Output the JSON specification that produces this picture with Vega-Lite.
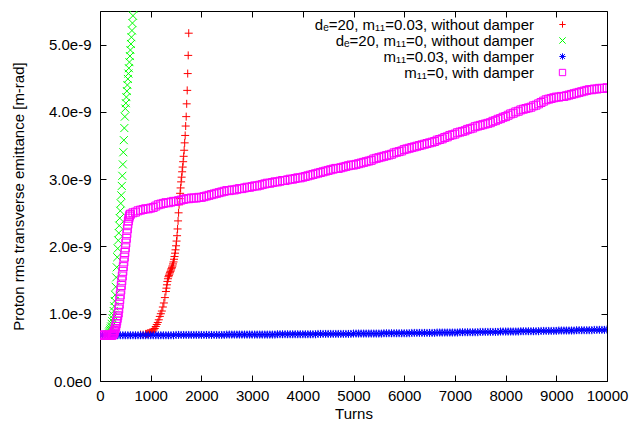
{
"$schema": "https://vega.github.io/schema/vega-lite/v6.json",
"width": 507, "height": 370,
"autosize": "none",
"padding": {"left": 100, "top": 11, "right": 30, "bottom": 46},
"background": "white",
"config": {"font": "Liberation Sans", "view": {"stroke": "black", "strokeWidth": 1}, "axis": {"grid": false}},
"datasets": {"pts": [
{"s":"a","t":800,"e":0.69e-9},{"s":"a","t":850,"e":0.69e-9},{"s":"a","t":900,"e":0.70e-9},{"s":"a","t":920,"e":0.70e-9},{"s":"a","t":940,"e":0.71e-9},{"s":"a","t":960,"e":0.71e-9},{"s":"a","t":980,"e":0.72e-9},{"s":"a","t":1000,"e":0.72e-9},{"s":"a","t":1020,"e":0.73e-9},{"s":"a","t":1040,"e":0.74e-9},{"s":"a","t":1060,"e":0.76e-9},{"s":"a","t":1080,"e":0.78e-9},{"s":"a","t":1100,"e":0.81e-9},{"s":"a","t":1120,"e":0.84e-9},{"s":"a","t":1140,"e":0.87e-9},{"s":"a","t":1160,"e":0.91e-9},{"s":"a","t":1180,"e":0.96e-9},{"s":"a","t":1200,"e":1.00e-9},{"s":"a","t":1220,"e":1.04e-9},{"s":"a","t":1240,"e":1.10e-9},{"s":"a","t":1260,"e":1.16e-9},{"s":"a","t":1280,"e":1.24e-9},{"s":"a","t":1300,"e":1.33e-9},{"s":"a","t":1310,"e":1.38e-9},{"s":"a","t":1320,"e":1.43e-9},{"s":"a","t":1330,"e":1.48e-9},{"s":"a","t":1340,"e":1.52e-9},{"s":"a","t":1350,"e":1.55e-9},{"s":"a","t":1360,"e":1.57e-9},{"s":"a","t":1370,"e":1.59e-9},{"s":"a","t":1380,"e":1.61e-9},{"s":"a","t":1390,"e":1.63e-9},{"s":"a","t":1400,"e":1.65e-9},{"s":"a","t":1410,"e":1.67e-9},{"s":"a","t":1420,"e":1.69e-9},{"s":"a","t":1430,"e":1.71e-9},{"s":"a","t":1440,"e":1.74e-9},{"s":"a","t":1450,"e":1.77e-9},{"s":"a","t":1460,"e":1.81e-9},{"s":"a","t":1470,"e":1.85e-9},{"s":"a","t":1480,"e":1.90e-9},{"s":"a","t":1490,"e":1.95e-9},{"s":"a","t":1500,"e":2.01e-9},{"s":"a","t":1510,"e":2.08e-9},{"s":"a","t":1520,"e":2.16e-9},{"s":"a","t":1530,"e":2.26e-9},{"s":"a","t":1540,"e":2.38e-9},{"s":"a","t":1550,"e":2.50e-9},{"s":"a","t":1560,"e":2.62e-9},{"s":"a","t":1570,"e":2.71e-9},{"s":"a","t":1580,"e":2.79e-9},{"s":"a","t":1590,"e":2.87e-9},{"s":"a","t":1600,"e":2.96e-9},{"s":"a","t":1610,"e":3.03e-9},{"s":"a","t":1620,"e":3.11e-9},{"s":"a","t":1630,"e":3.18e-9},{"s":"a","t":1640,"e":3.26e-9},{"s":"a","t":1650,"e":3.34e-9},{"s":"a","t":1660,"e":3.43e-9},{"s":"a","t":1670,"e":3.54e-9},{"s":"a","t":1680,"e":3.65e-9},{"s":"a","t":1690,"e":3.79e-9},{"s":"a","t":1700,"e":3.93e-9},{"s":"a","t":1710,"e":4.12e-9},{"s":"a","t":1720,"e":4.32e-9},{"s":"a","t":1730,"e":4.57e-9},{"s":"a","t":1740,"e":4.84e-9},{"s":"a","t":1750,"e":5.17e-9},
{"s":"b","t":150,"e":0.68e-9},{"s":"b","t":160,"e":0.69e-9},{"s":"b","t":170,"e":0.70e-9},{"s":"b","t":180,"e":0.72e-9},{"s":"b","t":190,"e":0.74e-9},{"s":"b","t":200,"e":0.76e-9},{"s":"b","t":210,"e":0.78e-9},{"s":"b","t":220,"e":0.81e-9},{"s":"b","t":230,"e":0.85e-9},{"s":"b","t":240,"e":0.89e-9},{"s":"b","t":250,"e":0.93e-9},{"s":"b","t":260,"e":0.98e-9},{"s":"b","t":270,"e":1.04e-9},{"s":"b","t":280,"e":1.11e-9},{"s":"b","t":290,"e":1.19e-9},{"s":"b","t":300,"e":1.28e-9},{"s":"b","t":310,"e":1.40e-9},{"s":"b","t":320,"e":1.54e-9},{"s":"b","t":330,"e":1.69e-9},{"s":"b","t":340,"e":1.84e-9},{"s":"b","t":350,"e":1.97e-9},{"s":"b","t":360,"e":2.09e-9},{"s":"b","t":370,"e":2.20e-9},{"s":"b","t":380,"e":2.31e-9},{"s":"b","t":390,"e":2.42e-9},{"s":"b","t":400,"e":2.53e-9},{"s":"b","t":410,"e":2.64e-9},{"s":"b","t":420,"e":2.76e-9},{"s":"b","t":430,"e":2.90e-9},{"s":"b","t":440,"e":3.05e-9},{"s":"b","t":450,"e":3.22e-9},{"s":"b","t":460,"e":3.40e-9},{"s":"b","t":470,"e":3.58e-9},{"s":"b","t":480,"e":3.76e-9},{"s":"b","t":490,"e":3.93e-9},{"s":"b","t":500,"e":4.05e-9},{"s":"b","t":510,"e":4.13e-9},{"s":"b","t":520,"e":4.22e-9},{"s":"b","t":530,"e":4.31e-9},{"s":"b","t":540,"e":4.40e-9},{"s":"b","t":550,"e":4.49e-9},{"s":"b","t":560,"e":4.57e-9},{"s":"b","t":570,"e":4.65e-9},{"s":"b","t":580,"e":4.74e-9},{"s":"b","t":590,"e":4.83e-9},{"s":"b","t":600,"e":4.92e-9},{"s":"b","t":610,"e":5.01e-9},{"s":"b","t":620,"e":5.11e-9},{"s":"b","t":630,"e":5.21e-9},{"s":"b","t":640,"e":5.32e-9},{"s":"b","t":650,"e":5.43e-9},{"s":"b","t":660,"e":5.54e-9},
{"s":"c","t":0,"e":0.680e-9},{"s":"c","t":50,"e":0.680e-9},{"s":"c","t":100,"e":0.680e-9},{"s":"c","t":150,"e":0.680e-9},{"s":"c","t":200,"e":0.680e-9},{"s":"c","t":250,"e":0.680e-9},{"s":"c","t":300,"e":0.680e-9},{"s":"c","t":350,"e":0.680e-9},{"s":"c","t":400,"e":0.680e-9},{"s":"c","t":450,"e":0.680e-9},{"s":"c","t":500,"e":0.680e-9},{"s":"c","t":550,"e":0.680e-9},{"s":"c","t":600,"e":0.680e-9},{"s":"c","t":650,"e":0.680e-9},{"s":"c","t":700,"e":0.680e-9},{"s":"c","t":750,"e":0.680e-9},{"s":"c","t":800,"e":0.680e-9},{"s":"c","t":850,"e":0.680e-9},{"s":"c","t":900,"e":0.680e-9},{"s":"c","t":950,"e":0.680e-9},{"s":"c","t":1000,"e":0.680e-9},{"s":"c","t":1050,"e":0.680e-9},{"s":"c","t":1100,"e":0.680e-9},{"s":"c","t":1150,"e":0.680e-9},{"s":"c","t":1200,"e":0.680e-9},{"s":"c","t":1250,"e":0.680e-9},{"s":"c","t":1300,"e":0.680e-9},{"s":"c","t":1350,"e":0.680e-9},{"s":"c","t":1400,"e":0.680e-9},{"s":"c","t":1450,"e":0.680e-9},
{"s":"c","t":1500,"e":0.685e-9},{"s":"c","t":1550,"e":0.685e-9},{"s":"c","t":1600,"e":0.685e-9},{"s":"c","t":1650,"e":0.685e-9},{"s":"c","t":1700,"e":0.685e-9},{"s":"c","t":1750,"e":0.685e-9},{"s":"c","t":1800,"e":0.685e-9},{"s":"c","t":1850,"e":0.685e-9},{"s":"c","t":1900,"e":0.685e-9},{"s":"c","t":1950,"e":0.685e-9},{"s":"c","t":2000,"e":0.685e-9},{"s":"c","t":2050,"e":0.685e-9},{"s":"c","t":2100,"e":0.685e-9},{"s":"c","t":2150,"e":0.685e-9},{"s":"c","t":2200,"e":0.685e-9},{"s":"c","t":2250,"e":0.685e-9},{"s":"c","t":2300,"e":0.685e-9},{"s":"c","t":2350,"e":0.685e-9},{"s":"c","t":2400,"e":0.685e-9},{"s":"c","t":2450,"e":0.685e-9},
{"s":"c","t":2500,"e":0.690e-9},{"s":"c","t":2550,"e":0.690e-9},{"s":"c","t":2600,"e":0.690e-9},{"s":"c","t":2650,"e":0.690e-9},{"s":"c","t":2700,"e":0.690e-9},{"s":"c","t":2750,"e":0.690e-9},{"s":"c","t":2800,"e":0.690e-9},{"s":"c","t":2850,"e":0.690e-9},{"s":"c","t":2900,"e":0.690e-9},{"s":"c","t":2950,"e":0.690e-9},{"s":"c","t":3000,"e":0.690e-9},{"s":"c","t":3050,"e":0.690e-9},{"s":"c","t":3100,"e":0.690e-9},{"s":"c","t":3150,"e":0.690e-9},{"s":"c","t":3200,"e":0.690e-9},{"s":"c","t":3250,"e":0.690e-9},{"s":"c","t":3300,"e":0.690e-9},{"s":"c","t":3350,"e":0.690e-9},{"s":"c","t":3400,"e":0.690e-9},{"s":"c","t":3450,"e":0.690e-9},
{"s":"c","t":3500,"e":0.695e-9},{"s":"c","t":3550,"e":0.695e-9},{"s":"c","t":3600,"e":0.695e-9},{"s":"c","t":3650,"e":0.695e-9},{"s":"c","t":3700,"e":0.695e-9},{"s":"c","t":3750,"e":0.695e-9},{"s":"c","t":3800,"e":0.695e-9},{"s":"c","t":3850,"e":0.695e-9},{"s":"c","t":3900,"e":0.695e-9},{"s":"c","t":3950,"e":0.695e-9},{"s":"c","t":4000,"e":0.695e-9},{"s":"c","t":4050,"e":0.695e-9},{"s":"c","t":4100,"e":0.695e-9},{"s":"c","t":4150,"e":0.695e-9},{"s":"c","t":4200,"e":0.695e-9},{"s":"c","t":4250,"e":0.695e-9},
{"s":"c","t":4300,"e":0.700e-9},{"s":"c","t":4350,"e":0.700e-9},{"s":"c","t":4400,"e":0.700e-9},{"s":"c","t":4450,"e":0.700e-9},{"s":"c","t":4500,"e":0.700e-9},{"s":"c","t":4550,"e":0.700e-9},{"s":"c","t":4600,"e":0.700e-9},{"s":"c","t":4650,"e":0.700e-9},{"s":"c","t":4700,"e":0.700e-9},{"s":"c","t":4750,"e":0.700e-9},{"s":"c","t":4800,"e":0.700e-9},{"s":"c","t":4850,"e":0.700e-9},{"s":"c","t":4900,"e":0.700e-9},{"s":"c","t":4950,"e":0.700e-9},
{"s":"c","t":5000,"e":0.705e-9},{"s":"c","t":5050,"e":0.705e-9},{"s":"c","t":5100,"e":0.705e-9},{"s":"c","t":5150,"e":0.705e-9},{"s":"c","t":5200,"e":0.705e-9},{"s":"c","t":5250,"e":0.705e-9},{"s":"c","t":5300,"e":0.705e-9},{"s":"c","t":5350,"e":0.705e-9},{"s":"c","t":5400,"e":0.705e-9},{"s":"c","t":5450,"e":0.705e-9},{"s":"c","t":5500,"e":0.705e-9},{"s":"c","t":5550,"e":0.705e-9},
{"s":"c","t":5600,"e":0.710e-9},{"s":"c","t":5650,"e":0.710e-9},{"s":"c","t":5700,"e":0.710e-9},{"s":"c","t":5750,"e":0.710e-9},{"s":"c","t":5800,"e":0.710e-9},{"s":"c","t":5850,"e":0.710e-9},{"s":"c","t":5900,"e":0.710e-9},{"s":"c","t":5950,"e":0.710e-9},{"s":"c","t":6000,"e":0.710e-9},{"s":"c","t":6050,"e":0.710e-9},{"s":"c","t":6100,"e":0.710e-9},
{"s":"c","t":6150,"e":0.715e-9},{"s":"c","t":6200,"e":0.715e-9},{"s":"c","t":6250,"e":0.715e-9},{"s":"c","t":6300,"e":0.715e-9},{"s":"c","t":6350,"e":0.715e-9},{"s":"c","t":6400,"e":0.715e-9},{"s":"c","t":6450,"e":0.715e-9},{"s":"c","t":6500,"e":0.715e-9},{"s":"c","t":6550,"e":0.715e-9},{"s":"c","t":6600,"e":0.715e-9},
{"s":"c","t":6650,"e":0.720e-9},{"s":"c","t":6700,"e":0.720e-9},{"s":"c","t":6750,"e":0.720e-9},{"s":"c","t":6800,"e":0.720e-9},{"s":"c","t":6850,"e":0.720e-9},{"s":"c","t":6900,"e":0.720e-9},{"s":"c","t":6950,"e":0.720e-9},{"s":"c","t":7000,"e":0.720e-9},{"s":"c","t":7050,"e":0.720e-9},
{"s":"c","t":7100,"e":0.725e-9},{"s":"c","t":7150,"e":0.725e-9},{"s":"c","t":7200,"e":0.725e-9},{"s":"c","t":7250,"e":0.725e-9},{"s":"c","t":7300,"e":0.725e-9},{"s":"c","t":7350,"e":0.725e-9},{"s":"c","t":7400,"e":0.725e-9},{"s":"c","t":7450,"e":0.725e-9},
{"s":"c","t":7500,"e":0.730e-9},{"s":"c","t":7550,"e":0.730e-9},{"s":"c","t":7600,"e":0.730e-9},{"s":"c","t":7650,"e":0.730e-9},{"s":"c","t":7700,"e":0.730e-9},{"s":"c","t":7750,"e":0.730e-9},{"s":"c","t":7800,"e":0.730e-9},{"s":"c","t":7850,"e":0.730e-9},
{"s":"c","t":7900,"e":0.735e-9},{"s":"c","t":7950,"e":0.735e-9},{"s":"c","t":8000,"e":0.735e-9},{"s":"c","t":8050,"e":0.735e-9},{"s":"c","t":8100,"e":0.735e-9},{"s":"c","t":8150,"e":0.735e-9},{"s":"c","t":8200,"e":0.735e-9},{"s":"c","t":8250,"e":0.735e-9},
{"s":"c","t":8300,"e":0.740e-9},{"s":"c","t":8350,"e":0.740e-9},{"s":"c","t":8400,"e":0.740e-9},{"s":"c","t":8450,"e":0.740e-9},{"s":"c","t":8500,"e":0.740e-9},{"s":"c","t":8550,"e":0.740e-9},{"s":"c","t":8600,"e":0.740e-9},{"s":"c","t":8650,"e":0.740e-9},
{"s":"c","t":8700,"e":0.745e-9},{"s":"c","t":8750,"e":0.745e-9},{"s":"c","t":8800,"e":0.745e-9},{"s":"c","t":8850,"e":0.745e-9},{"s":"c","t":8900,"e":0.745e-9},{"s":"c","t":8950,"e":0.745e-9},{"s":"c","t":9000,"e":0.745e-9},
{"s":"c","t":9050,"e":0.750e-9},{"s":"c","t":9100,"e":0.750e-9},{"s":"c","t":9150,"e":0.750e-9},{"s":"c","t":9200,"e":0.750e-9},{"s":"c","t":9250,"e":0.750e-9},{"s":"c","t":9300,"e":0.750e-9},{"s":"c","t":9350,"e":0.750e-9},
{"s":"c","t":9400,"e":0.755e-9},{"s":"c","t":9450,"e":0.755e-9},{"s":"c","t":9500,"e":0.755e-9},{"s":"c","t":9550,"e":0.755e-9},{"s":"c","t":9600,"e":0.755e-9},{"s":"c","t":9650,"e":0.755e-9},{"s":"c","t":9700,"e":0.755e-9},
{"s":"c","t":9750,"e":0.760e-9},{"s":"c","t":9800,"e":0.760e-9},{"s":"c","t":9850,"e":0.760e-9},{"s":"c","t":9900,"e":0.760e-9},{"s":"c","t":9950,"e":0.760e-9},{"s":"c","t":10000,"e":0.765e-9},
{"s":"d","t":0,"e":0.68e-9},{"s":"d","t":20,"e":0.68e-9},{"s":"d","t":40,"e":0.68e-9},{"s":"d","t":60,"e":0.68e-9},{"s":"d","t":80,"e":0.68e-9},{"s":"d","t":100,"e":0.68e-9},{"s":"d","t":120,"e":0.68e-9},{"s":"d","t":140,"e":0.68e-9},{"s":"d","t":160,"e":0.68e-9},{"s":"d","t":180,"e":0.68e-9},{"s":"d","t":200,"e":0.68e-9},{"s":"d","t":220,"e":0.68e-9},{"s":"d","t":240,"e":0.68e-9},
{"s":"d","t":250,"e":0.69e-9},{"s":"d","t":260,"e":0.70e-9},{"s":"d","t":270,"e":0.71e-9},{"s":"d","t":280,"e":0.73e-9},{"s":"d","t":290,"e":0.75e-9},{"s":"d","t":300,"e":0.78e-9},{"s":"d","t":310,"e":0.81e-9},{"s":"d","t":320,"e":0.85e-9},{"s":"d","t":330,"e":0.89e-9},{"s":"d","t":340,"e":0.93e-9},{"s":"d","t":350,"e":0.97e-9},{"s":"d","t":360,"e":1.01e-9},{"s":"d","t":370,"e":1.07e-9},{"s":"d","t":380,"e":1.14e-9},{"s":"d","t":390,"e":1.21e-9},{"s":"d","t":400,"e":1.28e-9},{"s":"d","t":410,"e":1.35e-9},{"s":"d","t":420,"e":1.42e-9},{"s":"d","t":430,"e":1.49e-9},{"s":"d","t":440,"e":1.56e-9},{"s":"d","t":450,"e":1.63e-9},{"s":"d","t":460,"e":1.70e-9},{"s":"d","t":470,"e":1.77e-9},{"s":"d","t":480,"e":1.84e-9},{"s":"d","t":490,"e":1.91e-9},{"s":"d","t":500,"e":1.98e-9},{"s":"d","t":510,"e":2.05e-9},{"s":"d","t":520,"e":2.12e-9},{"s":"d","t":530,"e":2.19e-9},{"s":"d","t":540,"e":2.26e-9},{"s":"d","t":550,"e":2.33e-9},{"s":"d","t":560,"e":2.38e-9},{"s":"d","t":570,"e":2.42e-9},{"s":"d","t":580,"e":2.45e-9},{"s":"d","t":590,"e":2.47e-9},{"s":"d","t":600,"e":2.48e-9},
{"s":"d","t":650,"e":2.50e-9},{"s":"d","t":700,"e":2.51e-9},{"s":"d","t":750,"e":2.53e-9},{"s":"d","t":800,"e":2.54e-9},{"s":"d","t":850,"e":2.55e-9},{"s":"d","t":900,"e":2.56e-9},{"s":"d","t":950,"e":2.56e-9},{"s":"d","t":1000,"e":2.57e-9},{"s":"d","t":1050,"e":2.58e-9},{"s":"d","t":1100,"e":2.60e-9},{"s":"d","t":1150,"e":2.62e-9},{"s":"d","t":1200,"e":2.63e-9},{"s":"d","t":1250,"e":2.64e-9},{"s":"d","t":1300,"e":2.65e-9},{"s":"d","t":1350,"e":2.65e-9},{"s":"d","t":1400,"e":2.66e-9},{"s":"d","t":1450,"e":2.67e-9},{"s":"d","t":1500,"e":2.67e-9},{"s":"d","t":1550,"e":2.68e-9},{"s":"d","t":1600,"e":2.69e-9},{"s":"d","t":1650,"e":2.70e-9},{"s":"d","t":1700,"e":2.71e-9},{"s":"d","t":1750,"e":2.71e-9},{"s":"d","t":1800,"e":2.72e-9},{"s":"d","t":1850,"e":2.72e-9},{"s":"d","t":1900,"e":2.72e-9},{"s":"d","t":1950,"e":2.73e-9},{"s":"d","t":2000,"e":2.73e-9},{"s":"d","t":2050,"e":2.74e-9},{"s":"d","t":2100,"e":2.75e-9},{"s":"d","t":2150,"e":2.76e-9},{"s":"d","t":2200,"e":2.77e-9},{"s":"d","t":2250,"e":2.78e-9},{"s":"d","t":2300,"e":2.79e-9},{"s":"d","t":2350,"e":2.80e-9},{"s":"d","t":2400,"e":2.81e-9},{"s":"d","t":2450,"e":2.82e-9},{"s":"d","t":2500,"e":2.83e-9},{"s":"d","t":2550,"e":2.83e-9},{"s":"d","t":2600,"e":2.84e-9},{"s":"d","t":2650,"e":2.84e-9},{"s":"d","t":2700,"e":2.85e-9},{"s":"d","t":2750,"e":2.86e-9},{"s":"d","t":2800,"e":2.86e-9},{"s":"d","t":2850,"e":2.87e-9},{"s":"d","t":2900,"e":2.88e-9},{"s":"d","t":2950,"e":2.88e-9},{"s":"d","t":3000,"e":2.89e-9},{"s":"d","t":3050,"e":2.90e-9},{"s":"d","t":3100,"e":2.90e-9},{"s":"d","t":3150,"e":2.91e-9},{"s":"d","t":3200,"e":2.92e-9},{"s":"d","t":3250,"e":2.93e-9},{"s":"d","t":3300,"e":2.94e-9},{"s":"d","t":3350,"e":2.94e-9},{"s":"d","t":3400,"e":2.95e-9},{"s":"d","t":3450,"e":2.96e-9},{"s":"d","t":3500,"e":2.96e-9},{"s":"d","t":3550,"e":2.97e-9},{"s":"d","t":3600,"e":2.98e-9},{"s":"d","t":3650,"e":2.98e-9},{"s":"d","t":3700,"e":2.99e-9},{"s":"d","t":3750,"e":3.00e-9},{"s":"d","t":3800,"e":3.00e-9},{"s":"d","t":3850,"e":3.01e-9},{"s":"d","t":3900,"e":3.02e-9},{"s":"d","t":3950,"e":3.02e-9},{"s":"d","t":4000,"e":3.03e-9},{"s":"d","t":4050,"e":3.04e-9},{"s":"d","t":4100,"e":3.05e-9},{"s":"d","t":4150,"e":3.06e-9},{"s":"d","t":4200,"e":3.07e-9},{"s":"d","t":4250,"e":3.08e-9},{"s":"d","t":4300,"e":3.09e-9},{"s":"d","t":4350,"e":3.10e-9},{"s":"d","t":4400,"e":3.11e-9},{"s":"d","t":4450,"e":3.12e-9},{"s":"d","t":4500,"e":3.13e-9},{"s":"d","t":4550,"e":3.14e-9},{"s":"d","t":4600,"e":3.15e-9},{"s":"d","t":4650,"e":3.16e-9},{"s":"d","t":4700,"e":3.16e-9},{"s":"d","t":4750,"e":3.17e-9},{"s":"d","t":4800,"e":3.18e-9},{"s":"d","t":4850,"e":3.19e-9},{"s":"d","t":4900,"e":3.20e-9},{"s":"d","t":4950,"e":3.21e-9},{"s":"d","t":5000,"e":3.21e-9},{"s":"d","t":5050,"e":3.22e-9},{"s":"d","t":5100,"e":3.23e-9},{"s":"d","t":5150,"e":3.24e-9},{"s":"d","t":5200,"e":3.25e-9},{"s":"d","t":5250,"e":3.26e-9},{"s":"d","t":5300,"e":3.27e-9},{"s":"d","t":5350,"e":3.28e-9},{"s":"d","t":5400,"e":3.30e-9},{"s":"d","t":5450,"e":3.31e-9},{"s":"d","t":5500,"e":3.32e-9},{"s":"d","t":5550,"e":3.33e-9},{"s":"d","t":5600,"e":3.34e-9},{"s":"d","t":5650,"e":3.35e-9},{"s":"d","t":5700,"e":3.36e-9},{"s":"d","t":5750,"e":3.37e-9},{"s":"d","t":5800,"e":3.39e-9},{"s":"d","t":5850,"e":3.40e-9},{"s":"d","t":5900,"e":3.41e-9},{"s":"d","t":5950,"e":3.42e-9},{"s":"d","t":6000,"e":3.44e-9},{"s":"d","t":6050,"e":3.45e-9},{"s":"d","t":6100,"e":3.46e-9},{"s":"d","t":6150,"e":3.47e-9},{"s":"d","t":6200,"e":3.48e-9},{"s":"d","t":6250,"e":3.49e-9},{"s":"d","t":6300,"e":3.50e-9},{"s":"d","t":6350,"e":3.51e-9},{"s":"d","t":6400,"e":3.52e-9},{"s":"d","t":6450,"e":3.53e-9},{"s":"d","t":6500,"e":3.54e-9},{"s":"d","t":6550,"e":3.55e-9},{"s":"d","t":6600,"e":3.56e-9},{"s":"d","t":6650,"e":3.58e-9},{"s":"d","t":6700,"e":3.59e-9},{"s":"d","t":6750,"e":3.60e-9},{"s":"d","t":6800,"e":3.62e-9},{"s":"d","t":6850,"e":3.63e-9},{"s":"d","t":6900,"e":3.65e-9},{"s":"d","t":6950,"e":3.66e-9},{"s":"d","t":7000,"e":3.67e-9},{"s":"d","t":7050,"e":3.69e-9},{"s":"d","t":7100,"e":3.70e-9},{"s":"d","t":7150,"e":3.71e-9},{"s":"d","t":7200,"e":3.72e-9},{"s":"d","t":7250,"e":3.74e-9},{"s":"d","t":7300,"e":3.75e-9},{"s":"d","t":7350,"e":3.76e-9},{"s":"d","t":7400,"e":3.78e-9},{"s":"d","t":7450,"e":3.79e-9},{"s":"d","t":7500,"e":3.80e-9},{"s":"d","t":7550,"e":3.81e-9},{"s":"d","t":7600,"e":3.82e-9},{"s":"d","t":7650,"e":3.83e-9},{"s":"d","t":7700,"e":3.84e-9},{"s":"d","t":7750,"e":3.86e-9},{"s":"d","t":7800,"e":3.87e-9},{"s":"d","t":7850,"e":3.89e-9},{"s":"d","t":7900,"e":3.90e-9},{"s":"d","t":7950,"e":3.92e-9},{"s":"d","t":8000,"e":3.93e-9},{"s":"d","t":8050,"e":3.95e-9},{"s":"d","t":8100,"e":3.97e-9},{"s":"d","t":8150,"e":3.98e-9},{"s":"d","t":8200,"e":4.00e-9},{"s":"d","t":8250,"e":4.01e-9},{"s":"d","t":8300,"e":4.03e-9},{"s":"d","t":8350,"e":4.04e-9},{"s":"d","t":8400,"e":4.05e-9},{"s":"d","t":8450,"e":4.06e-9},{"s":"d","t":8500,"e":4.07e-9},{"s":"d","t":8550,"e":4.09e-9},{"s":"d","t":8600,"e":4.10e-9},{"s":"d","t":8650,"e":4.12e-9},{"s":"d","t":8700,"e":4.14e-9},{"s":"d","t":8750,"e":4.16e-9},{"s":"d","t":8800,"e":4.18e-9},{"s":"d","t":8850,"e":4.19e-9},{"s":"d","t":8900,"e":4.20e-9},{"s":"d","t":8950,"e":4.21e-9},{"s":"d","t":9000,"e":4.22e-9},{"s":"d","t":9050,"e":4.22e-9},{"s":"d","t":9100,"e":4.23e-9},{"s":"d","t":9150,"e":4.23e-9},{"s":"d","t":9200,"e":4.24e-9},{"s":"d","t":9250,"e":4.25e-9},{"s":"d","t":9300,"e":4.26e-9},{"s":"d","t":9350,"e":4.27e-9},{"s":"d","t":9400,"e":4.28e-9},{"s":"d","t":9450,"e":4.29e-9},{"s":"d","t":9500,"e":4.30e-9},{"s":"d","t":9550,"e":4.31e-9},{"s":"d","t":9600,"e":4.32e-9},{"s":"d","t":9650,"e":4.33e-9},{"s":"d","t":9700,"e":4.33e-9},{"s":"d","t":9750,"e":4.34e-9},{"s":"d","t":9800,"e":4.34e-9},{"s":"d","t":9850,"e":4.35e-9},{"s":"d","t":9900,"e":4.35e-9},{"s":"d","t":9950,"e":4.35e-9},{"s":"d","t":10000,"e":4.36e-9}
]},
"layer": [
{
"data": {"name": "pts"},
"mark": {"type": "point", "filled": false, "opacity": 1, "size": 64, "clip": true},
"encoding": {
"x": {"field": "t", "type": "quantitative", "scale": {"domain": [0, 10000], "nice": false, "zero": false},
 "axis": {"orient": "bottom", "values": [0,1000,2000,3000,4000,5000,6000,7000,8000,9000,10000], "format": "d", "domain": false, "tickSize": -6, "tickColor": "black", "labelPadding": 13, "labelFontSize": 15, "labelColor": "black", "labelFlush": false, "labelOverlap": false, "title": "Turns", "titleFontSize": 15, "titleFontWeight": "normal", "titleColor": "black", "titlePadding": 3}},
"y": {"field": "e", "type": "quantitative", "scale": {"domain": [0, 5.5e-9], "nice": false, "zero": false},
 "axis": {"orient": "left", "values": [0, 1e-9, 2e-9, 3e-9, 4e-9, 5e-9], "labelExpr": "datum.value == 0 ? '0.0e0' : format(datum.value * 1e9, '.1f') + 'e-9'", "domain": false, "tickSize": -6, "tickColor": "black", "labelPadding": 15, "labelFontSize": 15, "labelColor": "black", "labelFlush": false, "labelOverlap": false, "title": "Proton rms transverse emittance [m-rad]", "titleFontSize": 15, "titleFontWeight": "normal", "titleColor": "black", "titlePadding": 22}},
"strokeWidth": {"field": "s", "type": "nominal", "scale": {"domain": ["a","b","c","d"], "range": [1, 1, 2, 2.5]}, "legend": null},
"color": {"field": "s", "type": "nominal", "scale": {"domain": ["a","b","c","d"], "range": ["#ff0000", "#00ff00", "#0000ff", "#ff00ff"]},
 "legend": {"orient": "none", "legendX": 455, "legendY": 6, "title": null, "labelAlign": "right", "labelOffset": -36, "labelLimit": 400, "labelFontSize": 15, "labelColor": "black", "symbolStrokeWidth": 1.5, "symbolSize": 40, "rowPadding": 0,
  "labelExpr": "datum.label == 'a' ? 'dₑ=20, m₁₁=0.03, without damper' : datum.label == 'b' ? 'dₑ=20, m₁₁=0, without damper' : datum.label == 'c' ? 'm₁₁=0.03, with damper' : 'm₁₁=0, with damper'"}},
"shape": {"field": "s", "type": "nominal", "scale": {"domain": ["a","b","c","d"], "range": ["M-1,0L1,0M0,-1L0,1", "M-1,-1L1,1M-1,1L1,-1", "M-1,0L1,0M0,-1L0,1M-0.75,-0.75L0.75,0.75M-0.75,0.75L0.75,-0.75", "square"]}}
}
},
{
"data": {"values": [{"t": 0, "e": 0}]},
"mark": {"type": "point", "opacity": 0},
"encoding": {
"x": {"field": "t", "type": "quantitative", "axis": {"orient": "top", "values": [0,1000,2000,3000,4000,5000,6000,7000,8000,9000,10000], "labels": false, "domain": false, "tickSize": -6, "tickColor": "black", "title": null}},
"y": {"field": "e", "type": "quantitative", "axis": {"orient": "right", "values": [0, 1e-9, 2e-9, 3e-9, 4e-9, 5e-9], "labels": false, "domain": false, "tickSize": -6, "tickColor": "black", "title": null}}
}
}
],
"resolve": {"axis": {"x": "independent", "y": "independent"}}
}
